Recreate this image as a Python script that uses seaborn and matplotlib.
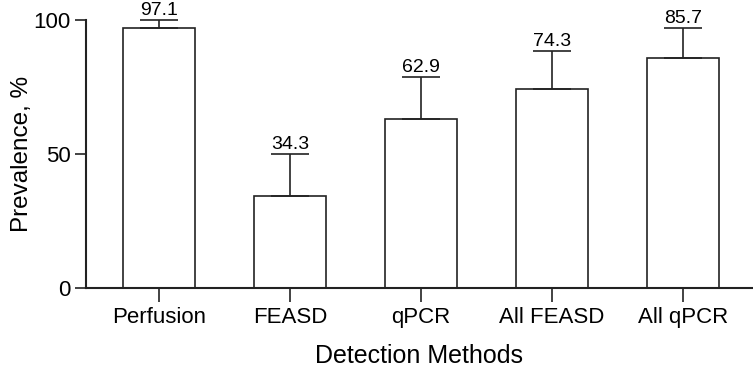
import numpy as np
import pandas as pd
import seaborn as sns
import matplotlib
matplotlib.use('Agg')
import matplotlib.pyplot as plt

# Chart values
methods = ['Perfusion', 'FEASD', 'qPCR', 'All FEASD', 'All qPCR']
prevalence = [97.1, 34.3, 62.9, 74.3, 85.7]
upper_bound = [100.0, 50.0, 78.6, 88.4, 97.0]

sns.set_theme(style='ticks')
plt.rcParams['font.family'] = ['Liberation Sans', 'DejaVu Sans']
plt.rcParams['text.color'] = 'black'
plt.rcParams['axes.labelcolor'] = 'black'
plt.rcParams['xtick.labelcolor'] = 'black'
plt.rcParams['ytick.labelcolor'] = 'black'

df = pd.DataFrame({'method': methods, 'prevalence': prevalence})

fig = plt.figure(figsize=(7.53, 3.67), dpi=100)
ax = fig.add_axes([0.114, 0.215, 0.885, 0.731])

sns.barplot(data=df, x='method', y='prevalence', color='white',
            edgecolor='#222222', linewidth=1.2, width=0.55, saturation=1,
            ax=ax)

# one-sided (upper) error bars
err_up = np.array(upper_bound) - np.array(prevalence)
xpos = np.arange(len(methods))
ax.errorbar(xpos, prevalence, yerr=[np.zeros(len(methods)), err_up],
            fmt='none', ecolor='#222222', elinewidth=1.2, capsize=14,
            capthick=1.2, clip_on=False, zorder=3)

# value labels above the caps
for x, top, v in zip(xpos, upper_bound, prevalence):
    ax.text(x, top + 0.4, f"{v:.1f}", ha='center', va='bottom',
            fontsize=14, color='black', clip_on=False)

ax.set_ylim(0, 100)
ax.set_xlim(-0.557, 4.527)
ax.set_yticks([0, 50, 100])
ax.tick_params(axis='y', labelsize=16, length=8, width=1.2, color='#222222',
               labelcolor='black', pad=3)
ax.tick_params(axis='x', labelsize=16, length=10, width=1.2, color='#222222',
               labelcolor='black', pad=3.5)
ax.set_xlabel('Detection Methods', fontsize=18, labelpad=11.5, color='black')
ax.set_ylabel('Prevalence, %', fontsize=17.5, labelpad=0, color='black')

for side in ['top', 'right']:
    ax.spines[side].set_visible(False)
for side in ['left', 'bottom']:
    ax.spines[side].set_linewidth(1.5)
    ax.spines[side].set_color('#222222')

fig.savefig('out.png', dpi=100)
